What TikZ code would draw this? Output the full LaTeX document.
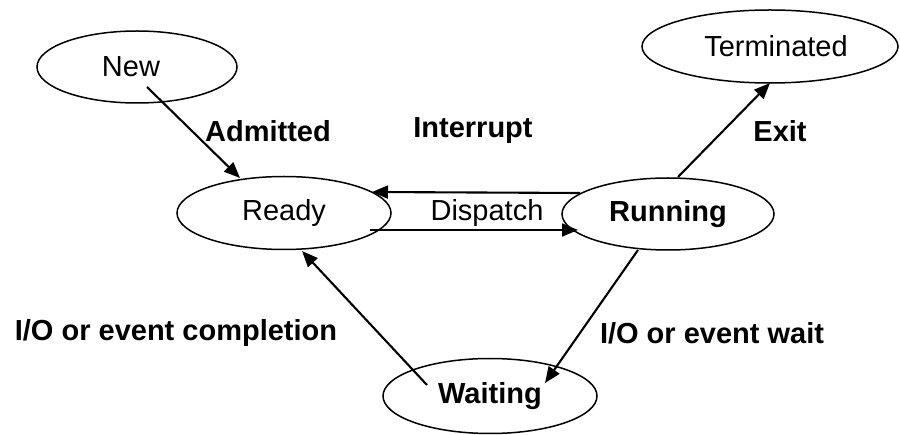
\documentclass[tikz,border=0pt]{standalone}
\usepackage{fontspec}
\setmainfont{Liberation Sans}
\usetikzlibrary{shapes.geometric,arrows.meta,calc}
\begin{document}
\begin{tikzpicture}[x=1pt,y=-1pt,
  txt/.style={font=\fontsize{29}{34}\selectfont},
  state/.style={ellipse,draw,line width=1.5pt,inner sep=0pt,outer sep=0pt,txt},
  lbl/.style={inner sep=0pt,font=\fontsize{29}{34}\selectfont\bfseries},
  flow/.style={line width=2.1pt,-{Triangle[length=16pt,width=13pt]}}]
\useasboundingbox (0,0) rectangle (900,435);

% states
\node[state,minimum width=200,minimum height=72] (new) at (137,67) {\hspace*{-12pt}New};
\node[state,minimum width=256,minimum height=73] (term) at (770,46.5) {\hspace*{12pt}Terminated};
\node[state,minimum width=214,minimum height=73] (ready) at (284,213) {\raisebox{-2pt}{Ready}};
\node[state,minimum width=212,minimum height=72,font=\fontsize{29}{34}\selectfont\bfseries] (running) at (668,214) {Running};
\node[state,minimum width=214,minimum height=75,font=\fontsize{29}{34}\selectfont\bfseries] (waiting) at (490,396) {\raisebox{-3pt}{Waiting}};

% transition labels
\node[lbl] (admitted) at (268,131) {Admitted};
\node[lbl] (interrupt) at (473,131) {Interrupt};
\node[lbl] (exit) at (780,131) {Exit};
\node[inner sep=0pt,txt] (dispatch) at (487,213) {Dispatch};
\node[lbl] (iocompl) at (176,333) {I/O or event completion};
\node[lbl] (iowait) at (712,333) {I/O or event wait};

% connector end points
\coordinate (newout) at ($(new.center)+(10,20)$);
\coordinate (readyin1) at ($(ready.center)+(-44,-35)$);
\coordinate (runout1) at ($(running.center)+(-88,-21)$);
\coordinate (readyin2) at ($(ready.center)+(88,-21)$);
\coordinate (readyout) at ($(ready.center)+(86,17)$);
\coordinate (runin) at ($(running.center)+(-90,16)$);
\coordinate (runout2) at ($(running.center)+(10,-37)$);
\coordinate (runout3) at ($(running.center)+(-30,36)$);
\coordinate (waitin) at ($(waiting.center)+(55,-13)$);
\coordinate (waitout) at ($(waiting.center)+(-63,-11)$);
\coordinate (readyin3) at ($(ready.center)+(18,38)$);

% transitions
\draw[flow] (newout) -- (readyin1);
\draw[flow] (runout1) -- (readyin2);
\draw[flow] (readyout) -- (runin);
\draw[flow] (runout2) -- (term.south);
\draw[flow] (runout3) -- (waitin);
\draw[flow] (waitout) -- (readyin3);
\end{tikzpicture}
\end{document}
